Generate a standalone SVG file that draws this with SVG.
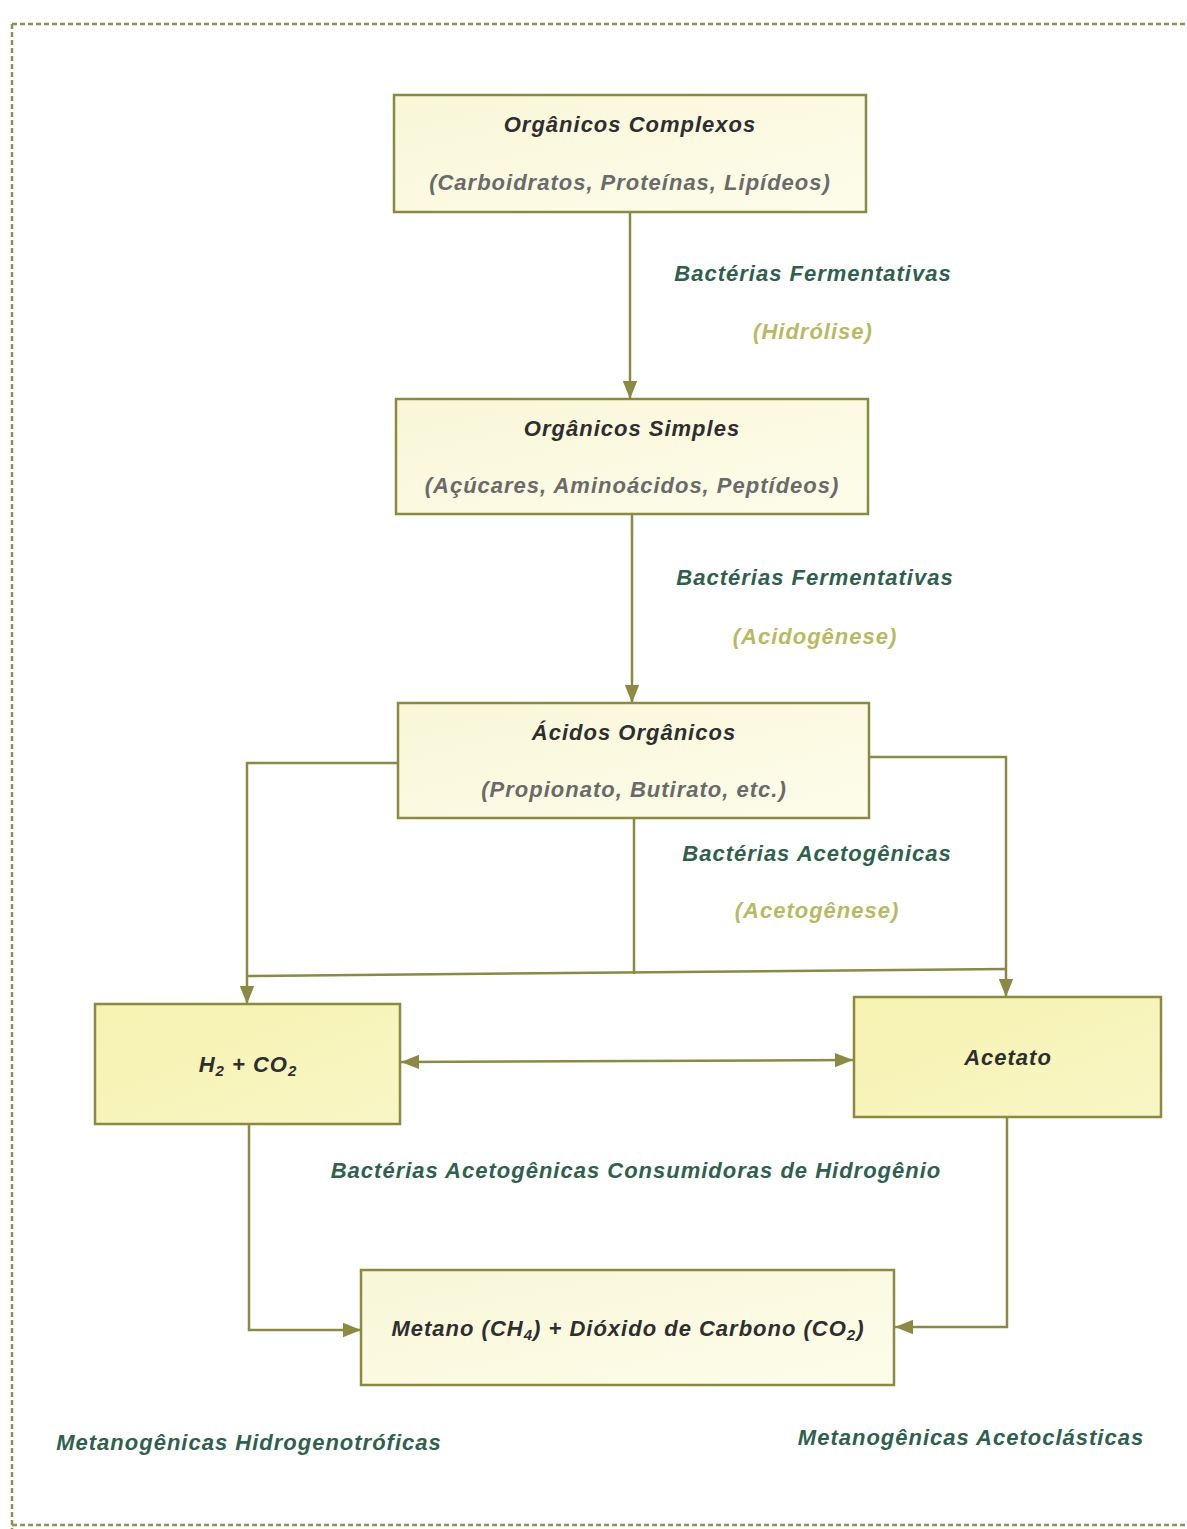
<svg xmlns="http://www.w3.org/2000/svg" width="1187" height="1529" viewBox="0 0 1187 1529">
<style>
text{font-family:"Liberation Sans",Arial,sans-serif;font-weight:bold;font-style:italic;font-size:22px;letter-spacing:1px;text-anchor:middle}
.box{stroke:#8a8a40;stroke-width:2.5}
.t{fill:#2e2e2e}
.s{fill:#6a6a6a}
.g{fill:#2f5f4e}
.o{fill:#b9b964}
.c{fill:none;stroke:#8a8a45;stroke-width:2.5}
.brd{fill:none;stroke:#8f8f50;stroke-width:2.5;stroke-dasharray:5 3}
</style>
<defs>
<linearGradient id="pale" x1="0" y1="0" x2="1" y2="1">
<stop offset="0" stop-color="#f9f7d8"/><stop offset="1" stop-color="#fdfcea"/>
</linearGradient>
<linearGradient id="yel" x1="0" y1="0" x2="1" y2="1">
<stop offset="0" stop-color="#f6f2b0"/><stop offset="1" stop-color="#f9f6c6"/>
</linearGradient>
<marker id="ahb" viewBox="0 0 10 10" refX="10" refY="5" markerWidth="18" markerHeight="18" markerUnits="userSpaceOnUse" orient="auto-start-reverse">
<path d="M0,1 L10,5 L0,9 z" fill="#8a8a45"/>
</marker>
</defs>

<g id="border">
<path class="brd" d="M12,24 H1187 M12,24 V1529 M12,1525 H1187"/>
</g>

<g id="connectors">
<path class="c" d="M630,212 V399" marker-end="url(#ahb)"/>
<path class="c" d="M632,514 V703" marker-end="url(#ahb)"/>
<path class="c" d="M634,818 V974"/>
<path class="c" d="M398,763 H247 V1004" marker-end="url(#ahb)"/>
<path class="c" d="M869,757 H1006 V997" marker-end="url(#ahb)"/>
<path class="c" d="M247,976 L1006,969"/>
<path class="c" d="M401,1062 L853,1060" marker-start="url(#ahb)" marker-end="url(#ahb)"/>
<path class="c" d="M249,1124 V1330 H361" marker-end="url(#ahb)"/>
<path class="c" d="M1007,1117 V1327 H895" marker-end="url(#ahb)"/>
</g>

<g id="n1">
<rect class="box" x="394" y="95" width="472" height="117" fill="url(#pale)"/>
<text class="t" x="630" y="132">Orgânicos Complexos</text>
<text class="s" x="630" y="190">(Carboidratos, Proteínas, Lipídeos)</text>
</g>
<g id="n2">
<rect class="box" x="396" y="399" width="472" height="115" fill="url(#pale)"/>
<text class="t" x="632" y="436">Orgânicos Simples</text>
<text class="s" x="632" y="493">(Açúcares, Aminoácidos, Peptídeos)</text>
</g>
<g id="n3">
<rect class="box" x="398" y="703" width="471" height="115" fill="url(#pale)"/>
<text class="t" x="634" y="740">Ácidos Orgânicos</text>
<text class="s" x="634" y="797">(Propionato, Butirato, etc.)</text>
</g>
<g id="n4">
<rect class="box" x="95" y="1004" width="305" height="120" fill="url(#yel)"/>
<text class="t" x="248" y="1072">H<tspan font-size="15" dy="4">2</tspan><tspan dy="-4"> + CO</tspan><tspan font-size="15" dy="4">2</tspan></text>
</g>
<g id="n5">
<rect class="box" x="854" y="997" width="307" height="120" fill="url(#yel)"/>
<text class="t" x="1008" y="1065">Acetato</text>
</g>
<g id="n6">
<rect class="box" x="361" y="1270" width="533" height="115" fill="url(#pale)"/>
<text class="t" x="628" y="1336">Metano (CH<tspan font-size="15" dy="4">4</tspan><tspan dy="-4">) + Dióxido de Carbono (CO</tspan><tspan font-size="15" dy="4">2</tspan><tspan dy="-4">)</tspan></text>
</g>

<g id="labels">
<text class="g" x="813" y="281">Bactérias Fermentativas</text>
<text class="o" x="813" y="339">(Hidrólise)</text>
<text class="g" x="815" y="585">Bactérias Fermentativas</text>
<text class="o" x="815" y="644">(Acidogênese)</text>
<text class="g" x="817" y="861">Bactérias Acetogênicas</text>
<text class="o" x="817" y="918">(Acetogênese)</text>
<text class="g" x="636" y="1178">Bactérias Acetogênicas Consumidoras de Hidrogênio</text>
<text class="g" x="249" y="1450">Metanogênicas Hidrogenotróficas</text>
<text class="g" x="971" y="1445">Metanogênicas Acetoclásticas</text>
</g>
</svg>
